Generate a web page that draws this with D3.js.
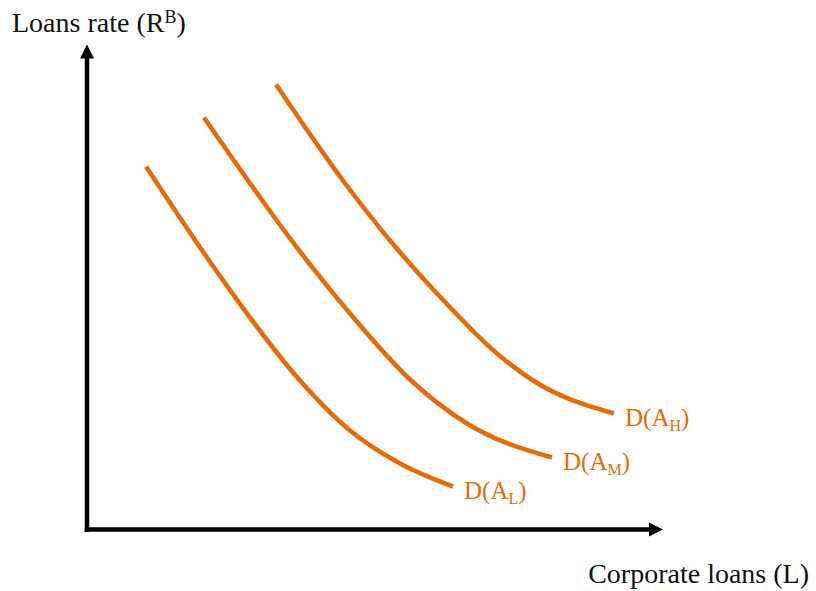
<!DOCTYPE html>
<html>
<head>
<meta charset="utf-8">
<script src="https://cdn.jsdelivr.net/npm/d3@7"></script>
<style>
  html, body { margin: 0; padding: 0; background: #fff; }
  svg { display: block; }
</style>
</head>
<body>
<svg id="chart" width="816" height="591"></svg>
<script>
// Data (abstract units; origin at axes corner)
const seriesNames = ["AL", "AM", "AH"];
const labelSubs = ["L", "M", "H"];
const xAL = [59, 120, 163, 213, 263, 313, 366];
const yAL = [363, 272, 212, 149, 99, 66, 43];
const xAM = [117, 213, 263, 323, 380, 465];
const yAM = [412, 278, 216, 150, 106, 72];
const xAH = [189, 256, 303, 350, 410, 446, 527];
const yAH = [445, 349, 289, 236, 176, 149, 116];
const xTitle = "Corporate loans (L)";
const yTitle = "Loans rate (R";
const yTitleSup = "B";

const color = "#E46C0A";
const svg = d3.select("#chart");

const x = d3.scaleLinear().domain([0, 576]).range([87, 663]);
const y = d3.scaleLinear().domain([0, 485]).range([529.5, 44.5]);

// Axes
const ah = 14, aw = 7;
svg.append("line")
  .attr("x1", x(0)).attr("y1", y(0) + 2.5)
  .attr("x2", x(0)).attr("y2", y(485) + ah - 1)
  .attr("stroke", "#000").attr("stroke-width", 4.5);
svg.append("line")
  .attr("x1", x(0) - 2.25).attr("y1", y(0))
  .attr("x2", x(576) - ah + 1).attr("y2", y(0))
  .attr("stroke", "#000").attr("stroke-width", 4.5);
svg.append("path")
  .attr("d", `M${x(0)},${y(485)} L${x(0) - aw},${y(485) + ah} L${x(0) + aw},${y(485) + ah} Z`)
  .attr("fill", "#000");
svg.append("path")
  .attr("d", `M${x(576)},${y(0)} L${x(576) - ah},${y(0) - aw} L${x(576) - ah},${y(0) + aw} Z`)
  .attr("fill", "#000");

// Curves
const line = d3.line().x(d => x(d[0])).y(d => y(d[1])).curve(d3.curveMonotoneX);
const curves = [
  d3.zip(xAL, yAL),
  d3.zip(xAM, yAM),
  d3.zip(xAH, yAH)
];
curves.forEach(pts => {
  svg.append("path")
    .attr("d", line(pts))
    .attr("fill", "none")
    .attr("stroke", color)
    .attr("stroke-width", 4.6)
    .attr("stroke-linecap", "butt");
});

// Curve labels
const font = "'Liberation Serif', 'Times New Roman', serif";
curves.forEach((pts, i) => {
  const last = pts[pts.length - 1];
  const t = svg.append("text")
    .attr("x", x(last[0]) + 11)
    .attr("y", y(last[1]) + 12)
    .attr("font-family", font)
    .attr("font-size", 25)
    .attr("fill", color);
  t.append("tspan").text("D(A");
  t.append("tspan").attr("font-size", 16).attr("dy", 5).text(labelSubs[i]);
  t.append("tspan").attr("dy", -5).text(")");
});

// Axis titles
const yt = svg.append("text")
  .attr("x", 12).attr("y", 31.5)
  .attr("font-family", font).attr("font-size", 28).attr("fill", "#111");
yt.append("tspan").text(yTitle);
yt.append("tspan").attr("font-size", 18).attr("dy", -9).text(yTitleSup);
yt.append("tspan").attr("dy", 9).text(")");

svg.append("text")
  .attr("x", 809).attr("y", 583)
  .attr("text-anchor", "end")
  .attr("font-family", font).attr("font-size", 28).attr("fill", "#111")
  .text(xTitle);
</script>
</body>
</html>
